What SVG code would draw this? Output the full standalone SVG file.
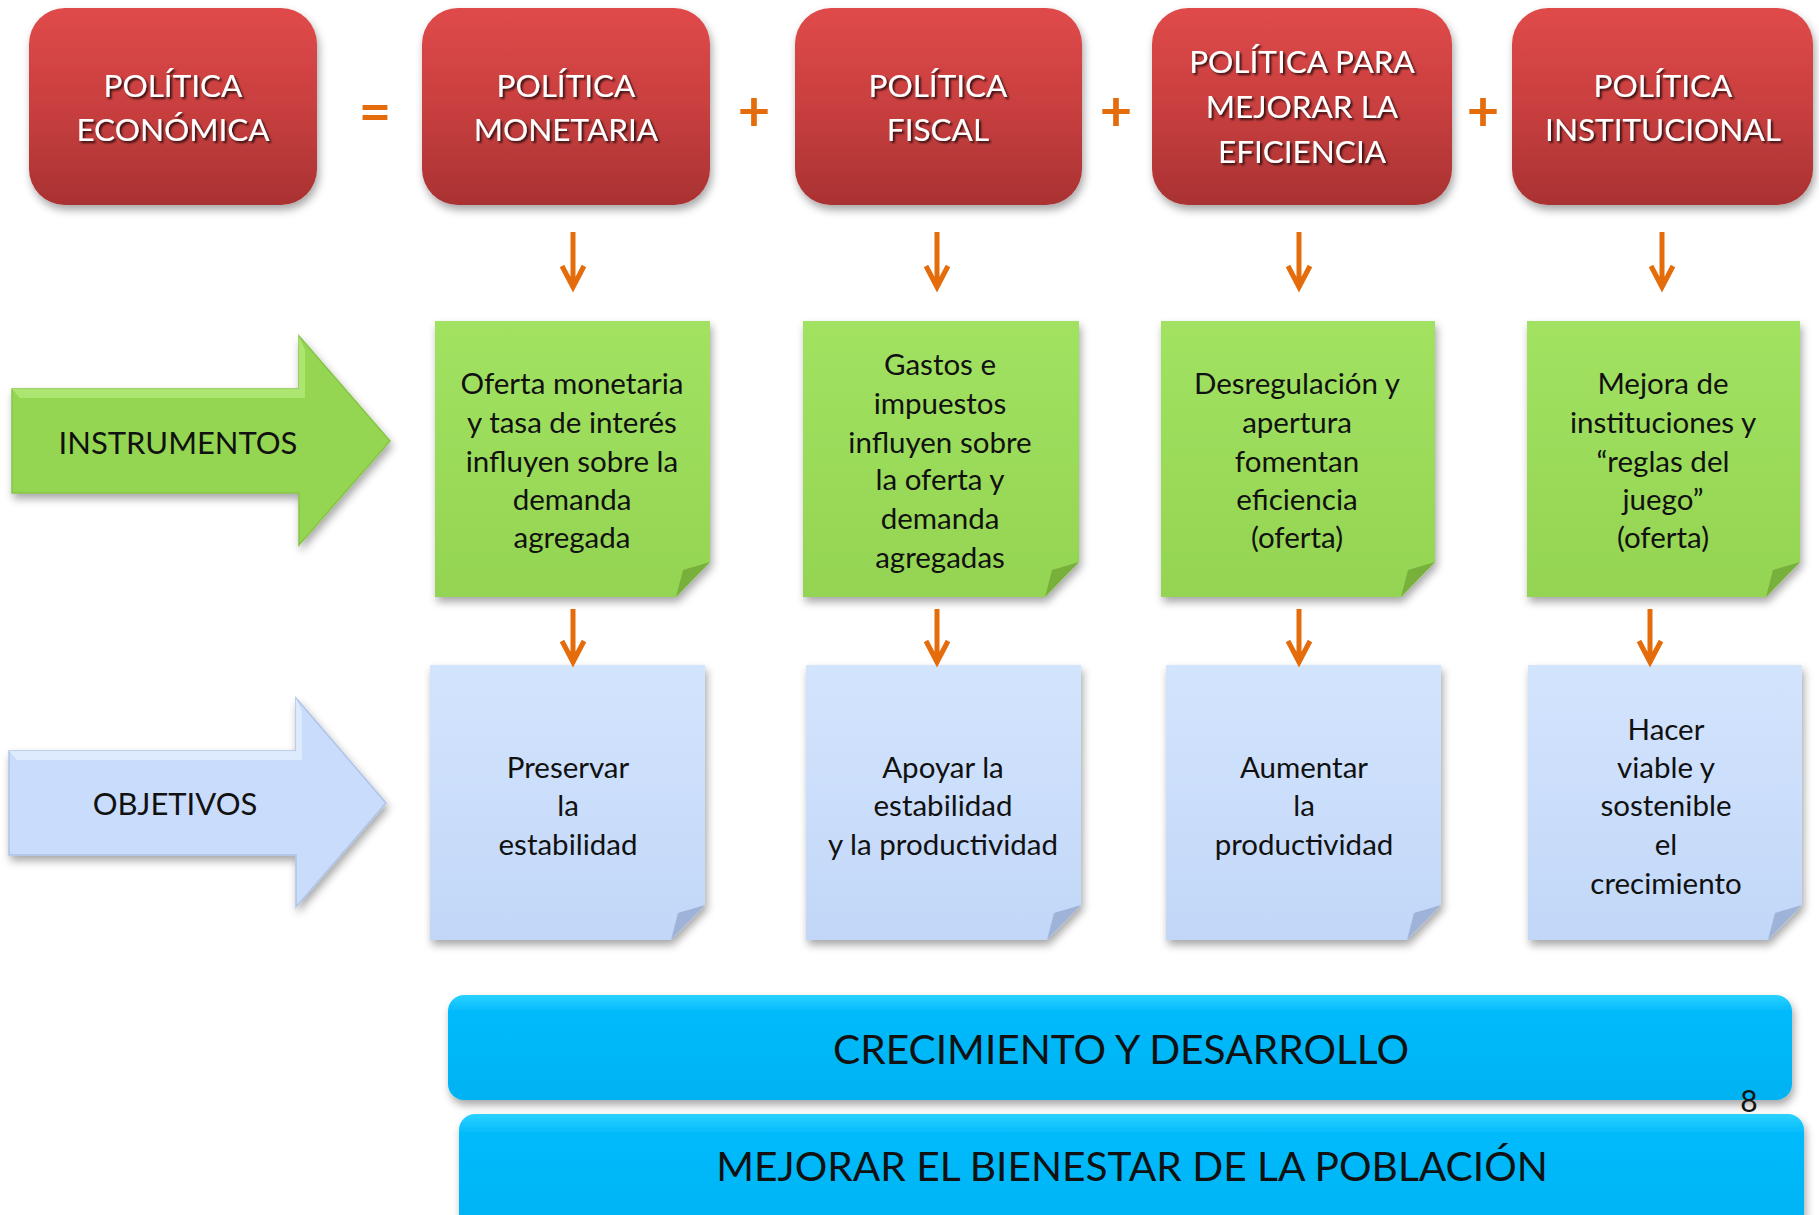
<svg xmlns="http://www.w3.org/2000/svg" width="1819" height="1215" viewBox="0 0 1819 1215">
<defs>
<linearGradient id="gRed" x1="0" y1="0" x2="0" y2="1">
<stop offset="0" stop-color="#e04a4a"/>
<stop offset="0.5" stop-color="#c93f3f"/>
<stop offset="1" stop-color="#a93232"/>
</linearGradient>
<linearGradient id="gGreen" x1="0" y1="0" x2="0" y2="1">
<stop offset="0" stop-color="#a2e262"/>
<stop offset="1" stop-color="#94d452"/>
</linearGradient>
<linearGradient id="gBlue" x1="0" y1="0" x2="0" y2="1">
<stop offset="0" stop-color="#d3e4fd"/>
<stop offset="1" stop-color="#c2d7f8"/>
</linearGradient>
<linearGradient id="gCyan" x1="0" y1="0" x2="0" y2="1">
<stop offset="0" stop-color="#2ad2ff"/>
<stop offset="0.15" stop-color="#05bbfc"/>
<stop offset="1" stop-color="#03b2f2"/>
</linearGradient>
<filter id="sh" x="-10%" y="-10%" width="130%" height="130%">
<feDropShadow dx="2" dy="5" stdDeviation="4" flood-color="#000" flood-opacity="0.35"/>
</filter>
<filter id="tsh" x="-10%" y="-20%" width="130%" height="150%">
<feDropShadow dx="2" dy="2" stdDeviation="1.2" flood-color="#000" flood-opacity="0.75"/>
</filter>
</defs>
<style>
.red{fill:url(#gRed);filter:url(#sh)}
.rt{font-family:Lato,"Liberation Sans",sans-serif;font-size:31.5px;fill:#fff;text-anchor:middle;filter:url(#tsh)}
.note{fill:url(#gGreen);filter:url(#sh)}
.fold{fill:#78b03c}
.bnote{fill:url(#gBlue);filter:url(#sh)}
.bfold{fill:#9fb3d9}
.nt{font-family:Lato,"Liberation Sans",sans-serif;font-size:29.5px;fill:#111;text-anchor:middle}
.big{font-family:Lato,"Liberation Sans",sans-serif;font-size:31px;fill:#111;text-anchor:middle}
.bar{fill:url(#gCyan);filter:url(#sh)}
.bt{font-family:Lato,"Liberation Sans",sans-serif;font-size:40.7px;fill:#111;text-anchor:middle}
.op{font-family:Lato,"Liberation Sans",sans-serif;font-size:56px;font-weight:bold;fill:#e46c0a;text-anchor:middle}
.conn{fill:none;stroke:#e46c0a;stroke-width:5}
</style>

<g id="n-economica"><rect class="red" x="29" y="8" width="288" height="197" rx="36"/><text class="rt" x="173" y="97">POLÍTICA</text><text class="rt" x="173" y="141">ECONÓMICA</text></g>
<g id="op-eq"><text class="op" x="375" y="131">=</text></g>
<g id="n-monetaria"><rect class="red" x="422" y="8" width="288" height="197" rx="36"/><text class="rt" x="566" y="97">POLÍTICA</text><text class="rt" x="566" y="141">MONETARIA</text></g>
<g id="op-p1"><text class="op" x="754" y="131">+</text></g>
<g id="n-fiscal"><rect class="red" x="795" y="8" width="287" height="197" rx="36"/><text class="rt" x="938" y="97">POLÍTICA</text><text class="rt" x="938" y="141">FISCAL</text></g>
<g id="op-p2"><text class="op" x="1116" y="131">+</text></g>
<g id="n-eficiencia"><rect class="red" x="1152" y="8" width="300" height="197" rx="36"/><text class="rt" x="1302" y="73">POLÍTICA PARA</text><text class="rt" x="1302" y="118">MEJORAR LA</text><text class="rt" x="1302" y="163">EFICIENCIA</text></g>
<g id="op-p3"><text class="op" x="1483" y="131">+</text></g>
<g id="n-institucional"><rect class="red" x="1512" y="8" width="301" height="197" rx="36"/><text class="rt" x="1663" y="97">POLÍTICA</text><text class="rt" x="1663" y="141">INSTITUCIONAL</text></g>

<g id="n-instrumentos">
<path d="M12,389 H299 V336 L390,441 L299,545 V493 H12 Z" fill="#94d651" stroke="#86c445" stroke-width="1.5" filter="url(#sh)"/>
<path d="M12,389 H299 V336 L305,350 V398 H20 Z" fill="#b2ea78" opacity="0.8"/>
<text class="big" x="178" y="454">INSTRUMENTOS</text>
</g>
<g id="n-objetivos">
<path d="M9,751 H296 V698 L386,803 L296,907 V855 H9 Z" fill="#c9dcfb" stroke="#aec3e6" stroke-width="1.5" filter="url(#sh)"/>
<path d="M9,751 H296 V698 L302,712 V760 H17 Z" fill="#e0ecfe" opacity="0.9"/>
<text class="big" x="175" y="815">OBJETIVOS</text>
</g>

<g id="i-monetaria"><path class="note" d="M435,321 H710 V562 L676,597 H435 Z"/><path class="fold" d="M710,562 L676,597 L683,570 Z"/>
<text class="nt"><tspan x="572" y="394">Oferta monetaria</tspan><tspan x="572" y="433">y tasa de interés</tspan><tspan x="572" y="472">influyen sobre la</tspan><tspan x="572" y="510">demanda</tspan><tspan x="572" y="548">agregada</tspan></text></g>
<g id="i-fiscal"><path class="note" d="M803,321 H1079 V562 L1045,597 H803 Z"/><path class="fold" d="M1079,562 L1045,597 L1052,570 Z"/>
<text class="nt"><tspan x="940" y="375">Gastos e</tspan><tspan x="940" y="414">impuestos</tspan><tspan x="940" y="453">influyen sobre</tspan><tspan x="940" y="490">la oferta y</tspan><tspan x="940" y="529">demanda</tspan><tspan x="940" y="568">agregadas</tspan></text></g>
<g id="i-eficiencia"><path class="note" d="M1161,321 H1435 V562 L1401,597 H1161 Z"/><path class="fold" d="M1435,562 L1401,597 L1408,570 Z"/>
<text class="nt"><tspan x="1297" y="394">Desregulación y</tspan><tspan x="1297" y="433">apertura</tspan><tspan x="1297" y="472">fomentan</tspan><tspan x="1297" y="510">eficiencia</tspan><tspan x="1297" y="548">(oferta)</tspan></text></g>
<g id="i-institucional"><path class="note" d="M1527,321 H1800 V562 L1766,597 H1527 Z"/><path class="fold" d="M1800,562 L1766,597 L1773,570 Z"/>
<text class="nt"><tspan x="1663" y="394">Mejora de</tspan><tspan x="1663" y="433">instituciones y</tspan><tspan x="1663" y="472">“reglas del</tspan><tspan x="1663" y="510">juego”</tspan><tspan x="1663" y="548">(oferta)</tspan></text></g>

<g id="o-monetaria"><path class="bnote" d="M430,665 H705 V905 L671,940 H430 Z"/><path class="bfold" d="M705,905 L671,940 L678,913 Z"/>
<text class="nt"><tspan x="568" y="778">Preservar</tspan><tspan x="568" y="816">la</tspan><tspan x="568" y="855">estabilidad</tspan></text></g>
<g id="o-fiscal"><path class="bnote" d="M806,665 H1081 V905 L1047,940 H806 Z"/><path class="bfold" d="M1081,905 L1047,940 L1054,913 Z"/>
<text class="nt"><tspan x="943" y="778">Apoyar la</tspan><tspan x="943" y="816">estabilidad</tspan><tspan x="943" y="855">y la productividad</tspan></text></g>
<g id="o-eficiencia"><path class="bnote" d="M1166,665 H1441 V905 L1407,940 H1166 Z"/><path class="bfold" d="M1441,905 L1407,940 L1414,913 Z"/>
<text class="nt"><tspan x="1304" y="778">Aumentar</tspan><tspan x="1304" y="816">la</tspan><tspan x="1304" y="855">productividad</tspan></text></g>
<g id="o-institucional"><path class="bnote" d="M1528,665 H1802 V905 L1768,940 H1528 Z"/><path class="bfold" d="M1802,905 L1768,940 L1775,913 Z"/>
<text class="nt"><tspan x="1666" y="740">Hacer</tspan><tspan x="1666" y="778">viable y</tspan><tspan x="1666" y="816">sostenible</tspan><tspan x="1666" y="855">el</tspan><tspan x="1666" y="894">crecimiento</tspan></text></g>

<g id="n-crecimiento"><rect class="bar" x="448" y="995" width="1344" height="105" rx="16"/><text class="bt" x="1121" y="1064">CRECIMIENTO Y DESARROLLO</text></g>
<g id="n-bienestar"><rect class="bar" x="459" y="1114" width="1345" height="125" rx="16"/><text class="bt" x="1132" y="1181">MEJORAR EL BIENESTAR DE LA POBLACIÓN</text></g>
<g id="pagenum"><text x="1749" y="1112" font-family="Lato,'Liberation Sans',sans-serif" font-size="30" fill="#111" text-anchor="middle">8</text></g>

<g id="connectors">
<path class="conn" d="M573,232 V287 M562,266 L573,287 L584,266"/>
<path class="conn" d="M937,232 V287 M926,266 L937,287 L948,266"/>
<path class="conn" d="M1299,232 V287 M1288,266 L1299,287 L1310,266"/>
<path class="conn" d="M1662,232 V287 M1651,266 L1662,287 L1673,266"/>
<path class="conn" d="M573,609 V662 M562,641 L573,662 L584,641"/>
<path class="conn" d="M937,609 V662 M926,641 L937,662 L948,641"/>
<path class="conn" d="M1299,609 V662 M1288,641 L1299,662 L1310,641"/>
<path class="conn" d="M1650,609 V662 M1639,641 L1650,662 L1661,641"/>
</g>
</svg>
